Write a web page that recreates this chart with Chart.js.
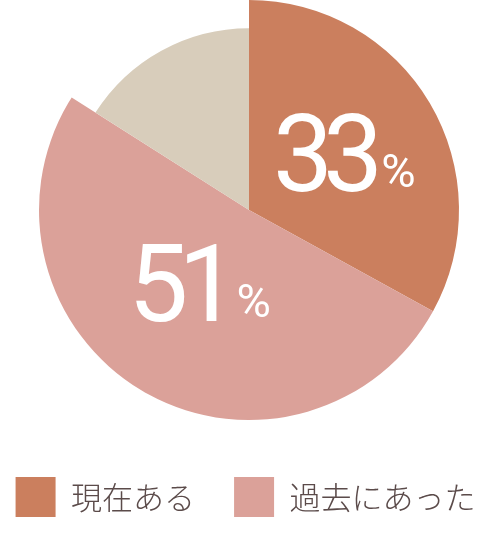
<!DOCTYPE html>
<html lang="ja">
<head>
<meta charset="UTF-8">
<title>現在ある・過去にあった</title>
<style>
  html, body { margin: 0; padding: 0; background: #fff; }
  #wrap { width: 498px; height: 542px; }
</style>
</head>
<body>
<div id="wrap"><canvas id="pie"></canvas></div>
<script src="https://cdn.jsdelivr.net/npm/chart.js"></script>
<script>
// データ
const categories = ['現在ある', '過去にあった', 'その他'];
const values = [33, 51, 16];
const legendCount = 2; // 3つ目は凡例に出さない

// 見た目
const colors = ['#cb7f5e', '#dba199', '#d8cdbb'];
const radiusScale = [1, 1, 0.866];   // その他だけ小さく
// ラベル位置: [半径に対する割合, 角度の補正(度)]、null = ラベルなし
const labelPos = [[0.53, -0.5], [0.42, 3.5], null];

// 扇ごとに半径を変える
const sliceRadius = {
  id: 'sliceRadius',
  afterDatasetsUpdate(chart) {
    chart.getDatasetMeta(0).data.forEach((arc, i) => {
      arc.outerRadius = arc.outerRadius * radiusScale[i];
    });
  }
};

// 「33%」のような大きい数字＋小さい%
const pctLabels = {
  id: 'pctLabels',
  afterDatasetsDraw(chart) {
    const ctx = chart.ctx;
    const arcs = chart.getDatasetMeta(0).data;
    const R = Math.max(...arcs.map(a => a.outerRadius));
    arcs.forEach((arc, i) => {
      if (!labelPos[i]) return;
      const [dist, shift] = labelPos[i];
      const mid = (arc.startAngle + arc.endAngle) / 2 + shift * Math.PI / 180;
      const cx = arc.x + Math.cos(mid) * R * dist;
      const cy = arc.y + Math.sin(mid) * R * dist;
      const num = String(values[i]);

      ctx.save();
      ctx.fillStyle = '#fff';
      ctx.textAlign = 'left';
      ctx.textBaseline = 'alphabetic';
      ctx.font = '400 107px Roboto';
      ctx.letterSpacing = '-10px';
      const wNum = ctx.measureText(num).width;
      ctx.font = '400 47px Roboto';
      ctx.letterSpacing = '0px';
      const wPct = ctx.measureText('%').width;
      const gap = 8;
      const x0 = cx - (wNum + gap + wPct) / 2;
      const base = cy + 38;

      ctx.font = '400 107px Roboto';
      ctx.letterSpacing = '-10px';
      ctx.fillText(num, x0, base);
      ctx.font = '400 47px Roboto';
      ctx.letterSpacing = '0px';
      ctx.fillText('%', x0 + wNum + gap, base - 4);
      ctx.restore();
    });
  }
};

const baseLabels = (Chart.overrides.pie || Chart.overrides.doughnut).plugins.legend.labels.generateLabels;

new Chart(document.getElementById('pie'), {
  type: 'pie',
  data: {
    labels: categories,
    datasets: [{
      data: values,
      backgroundColor: colors,
      borderWidth: 0,
      radius: 210
    }]
  },
  options: {
    responsive: true,
    maintainAspectRatio: false,
    animation: false,
    layout: { padding: { bottom: 15 } },
    plugins: {
      tooltip: { enabled: false },
      legend: {
        position: 'bottom',
        title: { display: true, text: '', padding: 0, font: { size: 49, lineHeight: 1 } },
        labels: {
          boxWidth: 40,
          boxHeight: 40,
          padding: 8,
          color: '#5b4b4a',
          font: { family: "'Noto Sans CJK JP', 'Noto Sans', sans-serif", size: 31, weight: '300' },
          filter: item => item.index < legendCount,
          // 項目の間をあけるためスペースを足す
          generateLabels: chart => baseLabels(chart).map((it, i) =>
            ({ ...it, text: it.text + (i < legendCount - 1 ? '\u3000' : ' ') }))
        }
      }
    }
  },
  plugins: [sliceRadius, pctLabels]
});
</script>
</body>
</html>
